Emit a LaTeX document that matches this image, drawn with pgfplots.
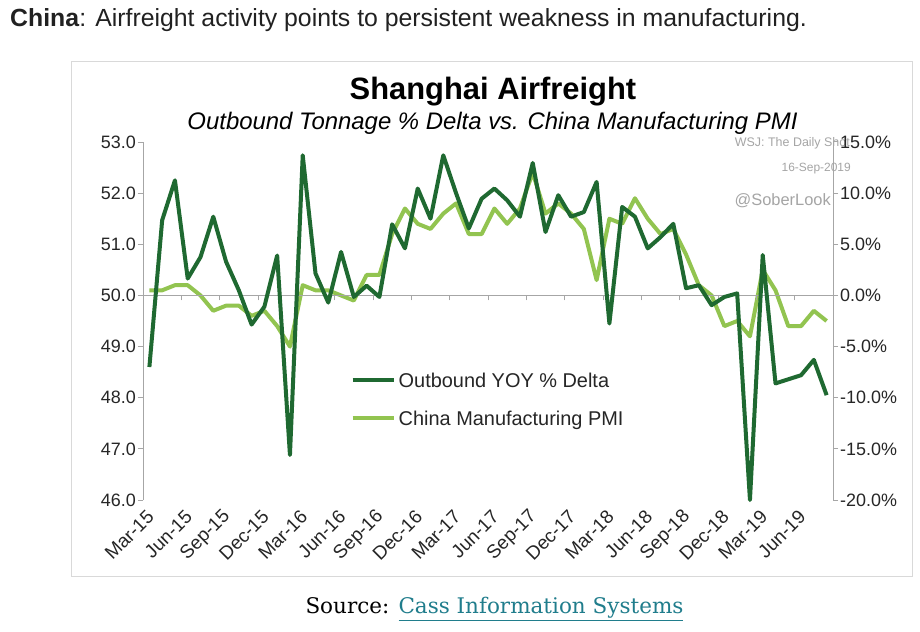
\documentclass[border=0pt]{standalone}
\usepackage{pgfplots}
\usepackage{pgfplotstable}
\pgfplotsset{compat=1.18}
\usepackage{fontspec}
\setmainfont{Liberation Sans}
\newfontfamily\serifsrc{DejaVu Serif}

\definecolor{dkgreen}{RGB}{31,105,49}
\definecolor{ltgreen}{RGB}{146,196,80}
\definecolor{axgray}{RGB}{166,166,166}
\definecolor{boxgray}{RGB}{217,217,217}
\definecolor{wmgray}{RGB}{165,165,165}
\definecolor{labcol}{RGB}{38,38,38}
\definecolor{linkcol}{RGB}{32,125,140}

\pgfplotstableread{
i pmi out
0 50.1 -7.0
1 50.1 7.35
2 50.2 11.25
3 50.2 1.65
4 50.0 3.75
5 49.7 7.7
6 49.8 3.3
7 49.8 0.5
8 49.6 -2.85
9 49.7 -1.1
10 49.4 3.9
11 49.0 -15.6
12 50.2 13.7
13 50.1 2.15
14 50.1 -0.7
15 50.0 4.25
16 49.9 -0.15
17 50.4 0.95
18 50.4 -0.15
19 51.2 6.95
20 51.7 4.6
21 51.4 10.45
22 51.3 7.5
23 51.6 13.7
24 51.8 10.0
25 51.2 6.55
26 51.2 9.45
27 51.7 10.45
28 51.4 9.3
29 51.7 7.7
30 52.4 12.95
31 51.6 6.2
32 51.8 9.8
33 51.6 7.7
34 51.3 8.15
35 50.3 11.1
36 51.5 -2.75
37 51.4 8.65
38 51.9 7.7
39 51.5 4.6
40 51.2 5.7
41 51.3 7.0
42 50.8 0.7
43 50.2 1.0
44 50.0 -0.95
45 49.4 -0.15
46 49.5 0.2
47 49.2 -20.0
48 50.5 3.95
49 50.1 -8.6
50 49.4 -8.2
51 49.4 -7.8
52 49.7 -6.3
53 49.5 -9.75
}\datatable

\begin{document}
\begin{tikzpicture}
\begin{scope}[x=1bp,y=-1bp,shift={(-143bp,500bp)}]
\path[use as bounding box, fill=white] (0,0) rectangle (920,632);
\draw[boxgray, line width=1bp] (72,62) rectangle (912,577);
\node[anchor=base west, inner sep=0pt, font=\fontsize{24.9}{28}\selectfont, text=black!87] at (10,27) {\textbf{China}: Airfreight activity points to persistent weakness in manufacturing.};
\node[anchor=base east, inner sep=0pt, font=\fontsize{12.5}{13}\selectfont, text=wmgray] at (850,147) {WSJ: The Daily Shot};
\node[anchor=base east, inner sep=0pt, font=\fontsize{12}{13}\selectfont, text=wmgray] at (851,172) {16-Sep-2019};
\node[anchor=base east, inner sep=0pt, font=\fontsize{16.5}{17}\selectfont, text=wmgray] at (831,206) {@SoberLook};
\node[anchor=base, inner sep=0pt, font=\bfseries\fontsize{31}{32}\selectfont, text=black] at (493,100) {Shanghai Airfreight};
\node[anchor=base, inner sep=0pt, font=\itshape\fontsize{24}{25}\selectfont, text=black] at (492.5,130) {Outbound Tonnage \% Delta vs. China Manufacturing PMI};
\node[anchor=base, inner sep=0pt, font=\serifsrc\fontsize{21.6}{22}\selectfont, text=black] at (494.5,614) {Source: \textcolor{linkcol}{\underline{Cass Information Systems}}};
\end{scope}

\begin{axis}[
  scale only axis, width=690bp, height=358bp,
  at={(0,0)}, anchor=south west,
  xmin=-0.5, xmax=53.5, ymin=46, ymax=53,
  axis lines*=left,
  axis line style={axgray, line width=1bp},
  x axis line style={draw=none},
  ytick={46,47,48,49,50,51,52,53},
  ytick align=outside,
  major tick length=5bp,
  y tick style={axgray, line width=1bp},
  x tick style={draw=none},
  xtick={0,3,...,51},
  xticklabels={Mar-15,Jun-15,Sep-15,Dec-15,Mar-16,Jun-16,Sep-16,Dec-16,Mar-17,Jun-17,Sep-17,Dec-17,Mar-18,Jun-18,Sep-18,Dec-18,Mar-19,Jun-19},
  yticklabel style={font=\fontsize{18}{18}\selectfont, text=labcol, inner sep=2bp, /pgf/number format/fixed, /pgf/number format/fixed zerofill, /pgf/number format/precision=1, /pgf/number format/assume math mode=true},
  xticklabel style={font=\fontsize{19}{20}\selectfont, text=labcol, yshift=-13bp, xshift=2bp, rotate=45, anchor=east, inner sep=1bp},
  clip=false,
]
\addplot[ltgreen, line width=4bp, line join=round] table[x=i, y=pmi] {\datatable};
\end{axis}

\begin{axis}[
  scale only axis, width=690bp, height=358bp,
  at={(0,0)}, anchor=south west,
  xmin=-0.5, xmax=53.5, ymin=-20, ymax=15,
  axis x line*=middle, axis y line*=right,
  hide obscured x ticks=false, hide obscured y ticks=false,
  axis line style={axgray, line width=1bp},
  xtick={-0.5,2.5,5.5,8.5,11.5,14.5,17.5,20.5,23.5,26.5,29.5,32.5,35.5,38.5,41.5,44.5,47.5,50.5,53.5},
  xticklabels={},
  ytick={-20,-15,-10,-5,0,5,10,15},
  tick align=outside,
  major tick length=5bp,
  tick style={axgray, line width=1bp},
  yticklabel={\pgfmathprintnumber[fixed,fixed zerofill,precision=1,assume math mode=true]{\tick}\%},
  yticklabel style={font=\fontsize{18}{18}\selectfont, text=labcol, anchor=west, inner sep=2bp},
  clip=false,
  legend image code/.code={\draw[#1, line width=4bp] (0bp,0bp) -- (41bp,0bp);},
  legend cell align=left,
  legend style={draw=none, fill=none, inner sep=0pt, at={(0.3007,0.3553)}, anchor=north west,
    font=\fontsize{20}{20}\selectfont, text=labcol,
    nodes={inner sep=0pt, text height=14.4bp, text depth=0bp},
    row sep=23.6bp, /tikz/every odd column/.append style={column sep=3bp}},
]
\addplot[dkgreen, line width=4bp, line join=round] table[x=i, y=out] {\datatable};
\addlegendentry{Outbound YOY \% Delta}
\addlegendimage{ltgreen, line width=4bp}
\addlegendentry{China Manufacturing PMI}
\end{axis}
\end{tikzpicture}
\end{document}
